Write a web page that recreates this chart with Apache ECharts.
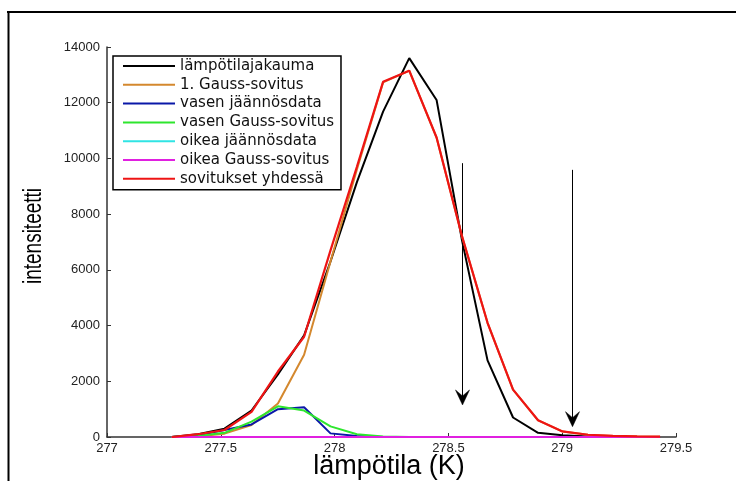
<!DOCTYPE html>
<html>
<head>
<meta charset="utf-8">
<script src="https://cdn.jsdelivr.net/npm/echarts@6/dist/echarts.min.js"></script>
<style>
  html, body { margin: 0; padding: 0; background: #fff; }
  #chart { width: 736px; height: 481px; }
</style>
</head>
<body>
<div id="chart"></div>
<script>
// Temperature bins (K)
const temps = [277.284, 277.400, 277.516, 277.635, 277.751, 277.866, 277.982, 278.098, 278.213, 278.328,
               278.448, 278.560, 278.672, 278.784, 278.894, 279.001, 279.113, 279.223, 279.329, 279.430];

// Measured temperature distribution
const jakauma   = [0, 100, 300, 950, 2250, 3650, 6300, 9150, 11680, 13600,
                   12100, 7050, 2750, 700, 150, 60, 20, 0, 0, 0];
// First Gaussian fit
const gauss1    = [0, 30, 120, 430, 1200, 2950, 6300, 9600, 12730, 13150,
                   10750, 7200, 4100, 1700, 600, 200, 80, 40, 20, 10];
// Left residual data and its Gaussian fit
const vasenData = [0, 60, 250, 450, 1000, 1070, 130, 40, 0];
const vasenFit  = [0, 40, 150, 550, 1100, 950, 380, 100, 20, 0, 0, 0, 0];
// Right residual data and its Gaussian fit
const oikeaData = [0, 0, 0, 0, 0, 0, 0, 0, 0, 0, 0, 0, 0];
const oikeaFit  = [0, 0, 0, 0, 0, 0, 0, 0, 0, 0, 0, 0, 0, 0, 0, 0, 0, 0, 0, 0];
// Sum of the fits
const yhdessa   = [0, 100, 250, 900, 2350, 3600, 6700, 9700, 12750, 13150,
                   10750, 7200, 4100, 1700, 600, 200, 80, 40, 20, 10];

// Arrow annotations: temperature, stem top and tip (intensity)
const arrowTemps = [278.558, 279.042];
const arrowTops  = [9830, 9590];
const arrowTips  = [1150, 370];

const xTicks = [277, 277.5, 278, 278.5, 279, 279.5];

const seriesDefs = [
  { name: 'lämpötilajakauma',      values: jakauma,   color: '#000000', width: 2 },
  { name: '1. Gauss-sovitus',      values: gauss1,    color: '#d4882e', width: 2 },
  { name: 'vasen jäännösdata',     values: vasenData, color: '#0a18a8', width: 2 },
  { name: 'vasen Gauss-sovitus',   values: vasenFit,  color: '#2ee62e', width: 2 },
  { name: 'oikea jäännösdata',     values: oikeaData, color: '#30e4e4', width: 2 },
  { name: 'oikea Gauss-sovitus',   values: oikeaFit,  color: '#e020e0', width: 2 },
  { name: 'sovitukset yhdessä',    values: yhdessa,   color: '#ee1414', width: 2.2 }
];

const sans = '"Liberation Sans", Arial, sans-serif';

const series = seriesDefs.map(function (d) {
  return {
    name: d.name,
    type: 'line',
    symbol: 'none',
    animation: false,
    color: d.color,
    lineStyle: { color: d.color, width: d.width },
    data: d.values.map(function (v, i) { return [temps[i], v]; })
  };
});

// Figure frame (top and left edges) and the axis titles
const frame = [
  { id: 'frameTop', type: 'line', shape: { x1: 7, y1: 12, x2: 736, y2: 12 }, style: { stroke: '#000', lineWidth: 2 }, silent: true },
  { id: 'frameLeft', type: 'line', shape: { x1: 8.5, y1: 12, x2: 8.5, y2: 481 }, style: { stroke: '#000', lineWidth: 2 }, silent: true },
  {
    id: 'yName', type: 'text', x: 34, y: 236, rotation: Math.PI / 2, scaleX: 0.76, silent: true,
    style: { text: 'intensiteetti', fontFamily: sans, fontSize: 25, fill: '#000', align: 'center', verticalAlign: 'middle' }
  },
  {
    id: 'xName', type: 'text', x: 389, y: 467, silent: true,
    style: { text: 'lämpötila (K)', fontFamily: sans, fontSize: 27, fill: '#000', align: 'center', verticalAlign: 'middle' }
  }
];

const chart = echarts.init(document.getElementById('chart'), null, { renderer: 'canvas' });
chart.setOption({
  backgroundColor: '#fff',
  animation: false,
  grid: { left: 107, right: 60, top: 47, bottom: 44, outerBoundsMode: 'none', containLabel: false },
  xAxis: {
    type: 'value',
    min: 277, max: 279.5, interval: 0.5,
    axisLine: { lineStyle: { color: '#333', width: 1.5 } },
    axisTick: { inside: true, length: 4, lineStyle: { color: '#333' } },
    splitLine: { show: false },
    axisLabel: {
      margin: 5,
      fontFamily: sans, fontSize: 13, color: '#222',
      formatter: function (v) { return xTicks.indexOf(v) >= 0 ? String(v) : ''; }
    }
  },
  yAxis: {
    type: 'value',
    min: 0, max: 14000, interval: 2000,
    axisLine: { show: true, lineStyle: { color: '#333', width: 1.5 } },
    axisTick: { show: true, inside: true, length: 4, lineStyle: { color: '#333' } },
    splitLine: { show: false },
    axisLabel: { margin: 7, fontFamily: sans, fontSize: 13, color: '#222', formatter: function (v) { return String(v); } }
  },
  legend: {
    orient: 'vertical',
    left: 113, top: 56,
    icon: 'rect',
    itemWidth: 52, itemHeight: 2,
    itemGap: 2.8,
    padding: [2, 7, 3, 10],
    borderColor: '#000', borderWidth: 1.5,
    backgroundColor: '#fff',
    textStyle: { fontFamily: '"DejaVu Sans", sans-serif', fontSize: 15, color: '#111', lineHeight: 16 },
    data: seriesDefs.map(function (d) { return d.name; })
  },
  graphic: frame,
  series: series
});

// Arrows: stem plus notched head, placed through the axis scales
const arrowGraphics = [];
arrowTemps.forEach(function (t, i) {
  const top = chart.convertToPixel({ gridIndex: 0 }, [t, arrowTops[i]]);
  const tip = chart.convertToPixel({ gridIndex: 0 }, [t, arrowTips[i]]);
  const x = Math.round(tip[0]) + 0.5;
  arrowGraphics.push({
    id: 'arrowStem' + i, type: 'line', silent: true,
    shape: { x1: x, y1: top[1], x2: x, y2: tip[1] - 8 },
    style: { stroke: '#000', lineWidth: 1 }
  });
  arrowGraphics.push({
    id: 'arrowHead' + i, type: 'polygon', silent: true,
    shape: { points: [[x, tip[1]], [x - 7, tip[1] - 15], [x, tip[1] - 9], [x + 7, tip[1] - 15]] },
    style: { fill: '#000', stroke: '#000', lineWidth: 0.5 }
  });
});
chart.setOption({ graphic: frame.concat(arrowGraphics) });
</script>
</body>
</html>
